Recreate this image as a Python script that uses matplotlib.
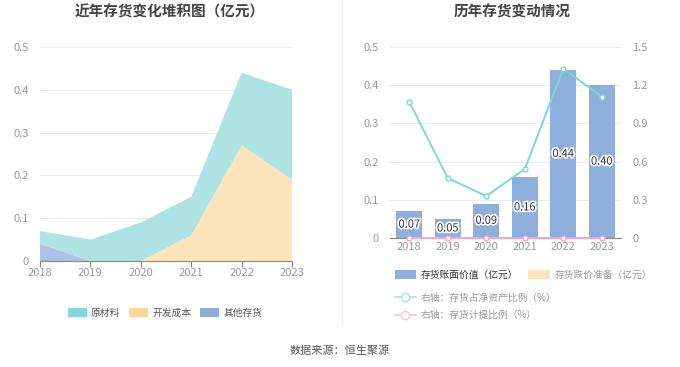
import matplotlib
matplotlib.use("Agg")
import matplotlib.pyplot as plt
import matplotlib.patheffects as pe
from matplotlib.patches import Patch
from matplotlib.lines import Line2D

plt.rcParams['font.family'] = ['Noto Sans CJK SC', 'DejaVu Sans']

years = ["2018", "2019", "2020", "2021", "2022", "2023"]

# 左图：存货构成（亿元）
raw_material = [0.03, 0.05, 0.09, 0.09, 0.17, 0.21]
dev_cost = [0.0, 0.0, 0.0, 0.06, 0.27, 0.19]
other_stock = [0.04, 0.0, 0.0, 0.0, 0.0, 0.0]

# 右图
book_value = [0.07, 0.05, 0.09, 0.16, 0.44, 0.40]
net_asset_ratio = [1.07, 0.47, 0.33, 0.54, 1.33, 1.11]
provision_ratio = [0, 0, 0, 0, 0, 0]

grey = "#999999"
grid_c = "#e8ebf5"

fig = plt.figure(figsize=(6.8, 3.67), dpi=100)

# ---- 左图 ----
ax1 = fig.add_axes([40 / 680, 106 / 367, 252 / 680, 214 / 367])
x = list(range(len(years)))
ax1.stackplot(x, other_stock, dev_cost, raw_material,
              colors=["#aec2e8", "#fde4b9", "#ade3e3"], linewidth=0)
ax1.set_xlim(0, 5)
ax1.set_ylim(0, 0.5)
ax1.set_yticks([0, 0.1, 0.2, 0.3, 0.4, 0.5])
ax1.set_yticklabels(["0", "0.1", "0.2", "0.3", "0.4", "0.5"])
ax1.set_xticks(x)
ax1.set_xticklabels(years)
ax1.grid(axis="y", color=grid_c, linewidth=0.8)
ax1.set_axisbelow(True)
for s in ["top", "right", "left"]:
    ax1.spines[s].set_visible(False)
ax1.spines["bottom"].set_color("#888888")
ax1.tick_params(axis="y", length=0, colors=grey, labelsize=8, pad=8)
ax1.tick_params(axis="x", length=4, color="#888888", colors=grey, labelsize=8, pad=1)

handles1 = [Patch(facecolor="#86d5d8", edgecolor="none"),
            Patch(facecolor="#fdd597", edgecolor="none"),
            Patch(facecolor="#8badd9", edgecolor="none")]
fig.legend(handles1, ["原材料", "开发成本", "其他存货"], loc="center",
           bbox_to_anchor=(165 / 680, 1 - 313 / 367), ncol=3, frameon=False,
           fontsize=7, handlelength=2.0, handleheight=1.1, columnspacing=0.9,
           handletextpad=0.4, labelcolor="#555555")

fig.text(170 / 680, 1 - 12 / 367, "近年存货变化堆积图（亿元）", ha="center", va="center",
         fontsize=10.5, fontweight="bold", color="#444444")

# ---- 右图 ----
ax2 = fig.add_axes([390 / 680, 129 / 367, 231 / 680, 191 / 367])
bars = ax2.bar(x, book_value, width=0.68, color="#8eaedb", zorder=2)
for xi, v in zip(x, book_value):
    ax2.text(xi, v / 2, f"{v:.2f}", ha="center", va="center", fontsize=8,
             color="#333333", zorder=5,
             path_effects=[pe.withStroke(linewidth=2.5, foreground="white")])
ax2.set_xlim(-0.5, 5.5)
ax2.set_ylim(0, 0.5)
ax2.set_yticks([0, 0.1, 0.2, 0.3, 0.4, 0.5])
ax2.set_yticklabels(["0", "0.1", "0.2", "0.3", "0.4", "0.5"])
ax2.set_xticks(x)
ax2.set_xticklabels(years)
ax2.grid(axis="y", color=grid_c, linewidth=0.8)
ax2.set_axisbelow(True)
for s in ["top", "right", "left"]:
    ax2.spines[s].set_visible(False)
ax2.spines["bottom"].set_color("#888888")
ax2.tick_params(axis="y", length=0, colors=grey, labelsize=8, pad=8)
ax2.tick_params(axis="x", length=0, colors=grey, labelsize=8, pad=3)

ax3 = ax2.twinx()
ax3.plot(x, net_asset_ratio, color="#7fd6d8", linewidth=1.4, marker="o",
         markersize=3.5, markerfacecolor="white", markeredgewidth=1, zorder=3)
ax3.plot(x, provision_ratio, color="#f2a7d0", linewidth=1.4, marker="o",
         markersize=3.5, markerfacecolor="white", markeredgewidth=1, zorder=3,
         clip_on=False)
ax3.set_ylim(0, 1.5)
ax3.set_yticks([0, 0.3, 0.6, 0.9, 1.2, 1.5])
ax3.set_yticklabels(["0", "0.3", "0.6", "0.9", "1.2", "1.5"])
for s in ["top", "right", "left", "bottom"]:
    ax3.spines[s].set_visible(False)
ax3.tick_params(axis="y", length=0, colors=grey, labelsize=8, pad=8)

h_bar = Patch(facecolor="#8eaedb", edgecolor="none")
h_prov = Patch(facecolor="#fde4bf", edgecolor="none")
fig.legend([h_bar, h_prov], ["存货账面价值（亿元）", "存货跌价准备（亿元）"],
           loc="center left", bbox_to_anchor=(386 / 680, 1 - 275 / 367), ncol=2,
           frameon=False, fontsize=7, handlelength=2.2, handleheight=1.1,
           columnspacing=1.0, handletextpad=0.5, labelcolor=["#333333", "#999999"])
h_l1 = Line2D([], [], color="#a8e3e5", marker="o", markersize=6,
              markerfacecolor="white", linewidth=1.2)
h_l2 = Line2D([], [], color="#f6c6e0", marker="o", markersize=6,
              markerfacecolor="white", linewidth=1.2)
fig.legend([h_l1, h_l2], ["右轴：存货占净资产比例（%）", "右轴：存货计提比例（%）"],
           loc="upper left", bbox_to_anchor=(386 / 680, 1 - 284 / 367), ncol=1,
           frameon=False, fontsize=7, handlelength=2.2, handletextpad=0.5,
           labelspacing=0.75, labelcolor="#999999")

fig.text(512 / 680, 1 - 12 / 367, "历年存货变动情况", ha="center", va="center",
         fontsize=10.5, fontweight="bold", color="#444444")

# 分隔线
fig.add_artist(Line2D([342 / 680, 342 / 680], [1 - 325 / 367, 1.0],
                      color="#f0f0f0", linewidth=1))

fig.text(340 / 680, 1 - 351 / 367, "数据来源：恒生聚源", ha="center", va="center",
         fontsize=8, color="#555555")

fig.savefig("out.png", dpi=100, facecolor="white")
